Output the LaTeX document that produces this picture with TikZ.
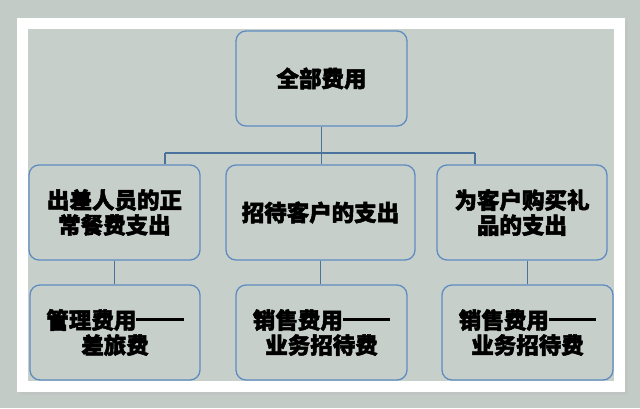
\documentclass[tikz,border=0pt]{standalone}
\usepackage{fontspec}
\newfontfamily\cjk{Noto Sans CJK SC}[BoldFeatures={FakeBold=2.2}]
\definecolor{outerbg}{HTML}{C3CBC7}
\definecolor{panelbg}{HTML}{C7CFCB}
\definecolor{boxline}{HTML}{5E8CC0}
\definecolor{conline}{HTML}{4A729C}
\newcommand{\longdash}{\rule[0.33em]{2.1em}{2.8pt}}
\tikzset{
  box/.style={draw=boxline, line width=1.3pt, rounded corners=10pt,
    minimum height=95pt, align=center, inner sep=0pt,
    font=\cjk\bfseries\fontsize{22.5}{25}\selectfont, text=black},
  conn/.style={draw=conline, line width=1.3pt}
}
\begin{document}
\begin{tikzpicture}[x=1pt,y=-1pt]
\useasboundingbox (0,0) rectangle (640,408);
\fill[outerbg] (0,0) rectangle (640,408);
\fill[black!25, opacity=0.5] (20,21) rectangle (628,395);
\fill[white] (17,18) rectangle (625,392);
\fill[panelbg] (28,29) rectangle (614,381);

\node[box, minimum width=171pt] (top) at (321.5,78.5) {全部费用};
\node[box, minimum width=171pt] (m1) at (114.5,212.5) {出差人员的正\\常餐费支出};
\node[box, minimum width=189pt] (m2) at (320.5,212.5) {招待客户的支出};
\node[box, minimum width=170pt] (m3) at (522,212.5) {为客户购买礼\\品的支出};
\node[box, minimum width=170pt] (b1) at (115,332.5) {管理费用\longdash\\差旅费};
\node[box, minimum width=171pt] (b2) at (321.5,332.5) {销售费用\longdash\\业务招待费};
\node[box, minimum width=171pt] (b3) at (527.5,332.5) {销售费用\longdash\\业务招待费};

\coordinate (busL) at (165,153);
\coordinate (busR) at (475,153);
\draw[conn] (top.south) -- (top.south |- m2.north);
\draw[conn] (busL) -- (busR);
\draw[conn] (busL) -- (busL |- m1.north);
\draw[conn] (busR) -- (busR |- m3.north);
\draw[conn] (m1.south) -- (m1.south |- b1.north);
\draw[conn] (m2.south) -- (m2.south |- b2.north);
\draw[conn] (b3.north) -- (b3.north |- m3.south);
\end{tikzpicture}
\end{document}
